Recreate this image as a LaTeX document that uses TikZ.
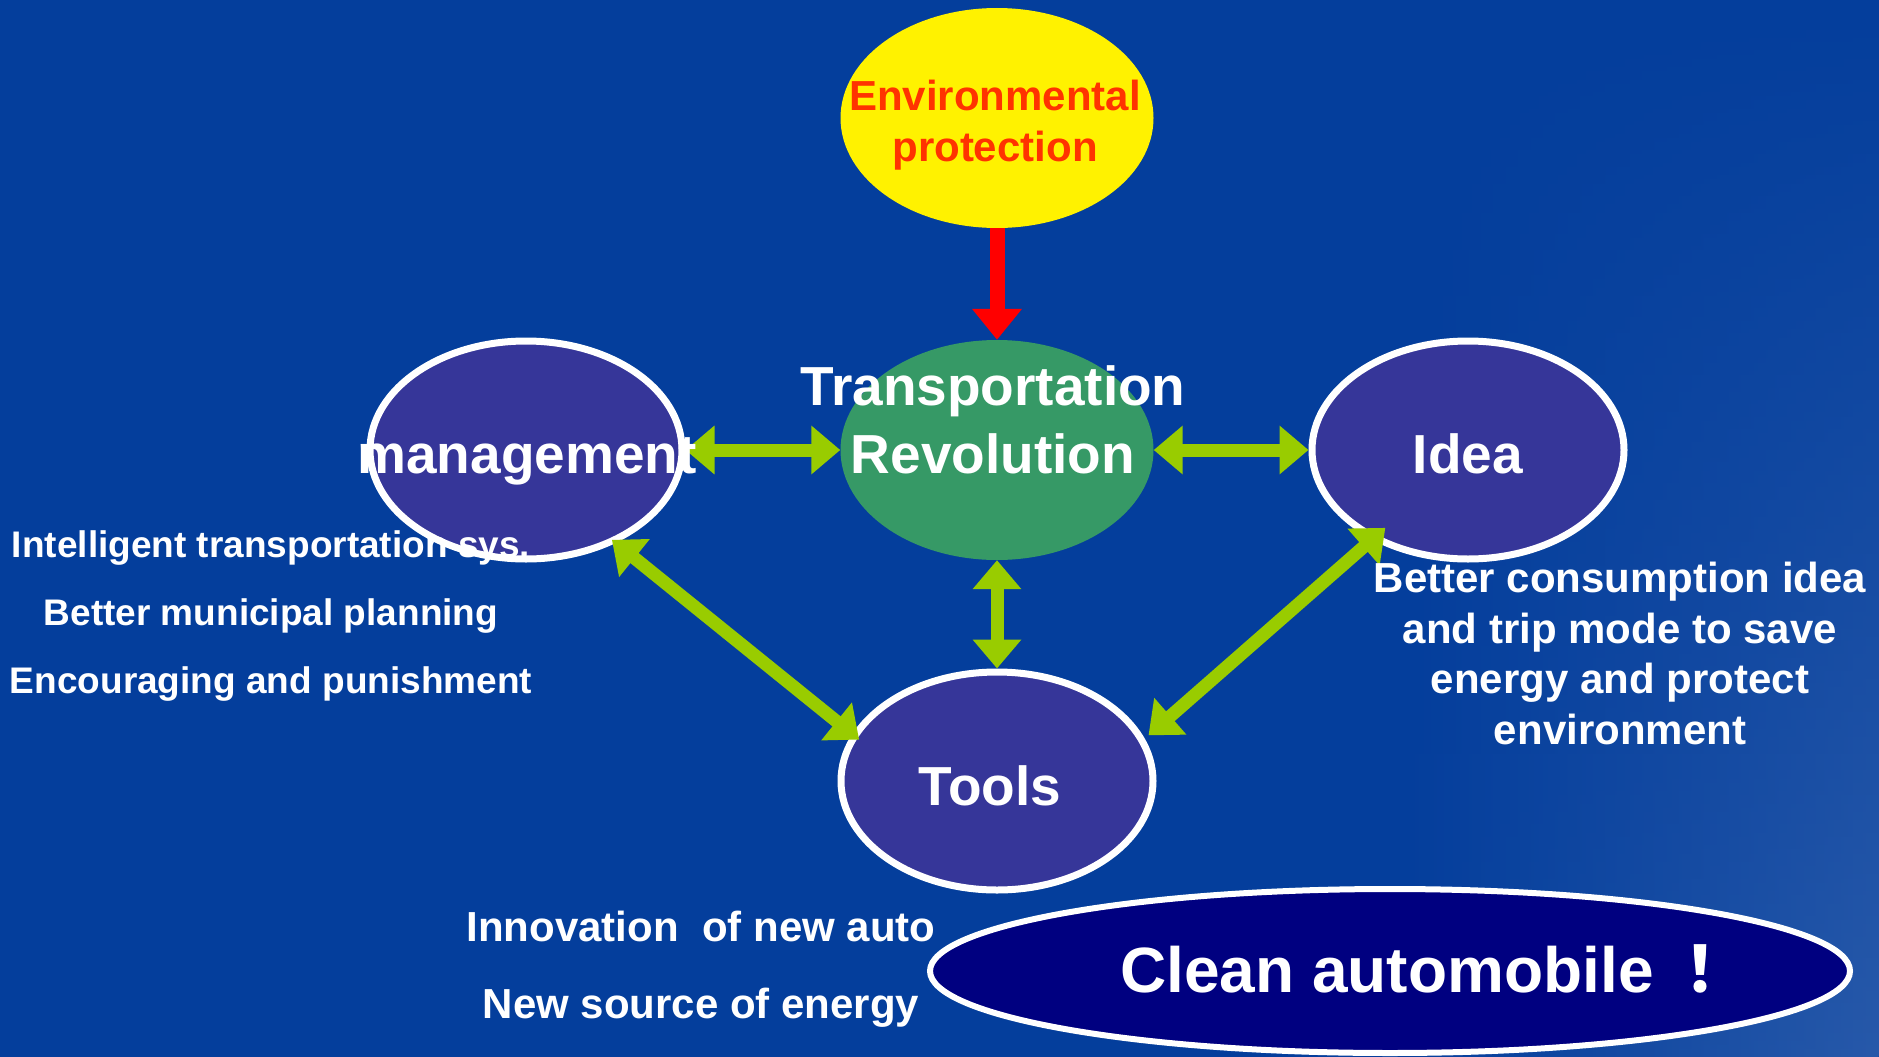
\documentclass[tikz,border=0pt]{standalone}
\usepackage{fontspec}
\setmainfont{Liberation Sans}
\newfontfamily\cjkfont{Noto Sans CJK SC}
\usetikzlibrary{positioning,calc,shapes.geometric,arrows.meta,fadings}

\definecolor{bgblue}{HTML}{043E9C}
\definecolor{shapeblue}{HTML}{363699}
\definecolor{revgreen}{HTML}{369966}
\definecolor{linkgreen}{HTML}{99CC00}
\definecolor{envred}{HTML}{FF3300}
\definecolor{cleannavy}{HTML}{000080}

\tikzset{
	bubble/.style={shape=ellipse, draw=white, line width=7pt, fill=shapeblue, minimum width=312pt, minimum height=218pt, inner sep=0pt},
	plainbubble/.style={shape=ellipse, minimum width=313pt, minimum height=220pt, inner sep=0pt},
	link/.style={draw=linkgreen, line width=13pt, {Triangle[width=47pt,length=29pt]}-{Triangle[width=47pt,length=29pt]}},
	label/.style={text=white, font=\bfseries, inner sep=0pt, anchor=base, align=center},
}

\begin{document}
\begin{tikzpicture}[x=1pt, y=-1pt]
		\useasboundingbox (0, 0) rectangle (1879, 1057);
		\fill[bgblue] (0, 0) rectangle (1879, 1057);
		\shade[left color=bgblue, right color=bgblue!80!white, opacity=0.7, path fading=north] (1400, 0) rectangle (1879, 1057);

		% shapes
		\node[plainbubble, fill=yellow] (env) at (997, 118) {};
		\node[plainbubble, fill=revgreen] (trans) at (997, 450) {};
		\node[bubble] (mgmt) at (526, 450) {};
		\node[bubble] (idea) at (1468, 450) {};
		\node[bubble] (tools) at (997, 781) {};
		\node[bubble, fill=cleannavy, line width=6pt, minimum width=920pt, minimum height=164pt] (clean) at (1390, 971) {};

		% arrows
		\draw[red, line width=15pt, -{Triangle[width=48pt,length=31pt]}] (env.south) -- (trans.north);
		\draw[link] (mgmt.east) -- (trans.west);
		\draw[link] (trans.east) -- (idea.west);
		\draw[link] (trans.south) -- (tools.north);
		\draw[link, shorten <=-5pt, shorten >=-9pt] (mgmt.-46) -- (tools.162);
		\draw[link, shorten <=-18pt, shorten >=5pt] (idea.-137) -- (tools.16);

		% texts (base = last line)
		\node[label, text=envred, font=\bfseries\fontsize{42}{51}\selectfont] (env-text) at (995, 161) {Environmental\\protection};
		\node[label, font=\bfseries\fontsize{55}{68}\selectfont] (trans-text) at (993, 473) {Transportation\\Revolution};
		\node[label, font=\bfseries\fontsize{55}{66}\selectfont] (mgmt-text) at (527, 473) {management};
		\node[label, font=\bfseries\fontsize{55}{66}\selectfont] (idea-text) at (1468, 473) {Idea};
		\node[label, font=\bfseries\fontsize{55}{66}\selectfont] (tools-text) at (990, 805) {Tools};
		\node[label, font=\bfseries\fontsize{37}{68}\selectfont] (mgmt-notes) at (271, 693) {Intelligent transportation sys.\\Better municipal planning\\Encouraging and punishment};
		\node[label, font=\bfseries\fontsize{42}{50.5}\selectfont] (idea-notes) at (1620, 744) {Better consumption idea\\and trip mode to save\\energy and protect\\environment};
		\node[label, font=\bfseries\fontsize{42}{77}\selectfont] (tools-notes) at (701, 1018) {Innovation\ \ of new auto\\New source of energy};
		\node[label, anchor=base west, font=\bfseries\fontsize{64}{76}\selectfont] (clean-text) at (1120, 992) {Clean automobile\hspace{31pt}{\cjkfont\bfseries ！}};
	\end{tikzpicture}
\end{document}
